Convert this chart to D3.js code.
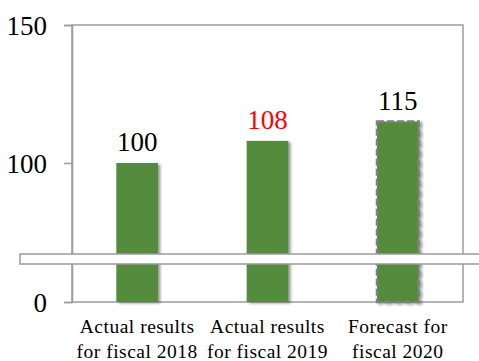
<!DOCTYPE html>
<html>
<head>
<meta charset="utf-8">
<script src="https://cdn.jsdelivr.net/npm/d3@7"></script>
<style>
  html, body { margin: 0; padding: 0; background: #fff; }
  svg { display: block; }
  svg text { font-family: "Liberation Serif", "Times New Roman", serif; }
</style>
</head>
<body>
<svg id="chart" width="479" height="361"></svg>
<script>
// Chart data
const categories = [
  ["Actual results", "for fiscal 2018"],
  ["Actual results", "for fiscal 2019"],
  ["Forecast for", "fiscal 2020"]
];
const values = [100, 108, 115];
const valueLabels = ["100", "108", "115"];
const labelColors = ["#000000", "#ff0000", "#000000"];
const forecast = [false, false, true];
const tickValues = [0, 100, 150];
const tickLabels = ["0", "100", "150"];

const serif = "'Liberation Serif', 'Times New Roman', serif";
const width = 479, height = 361;
const margin = { left: 72, right: 16, top: 25, bottom: 59 };
const plotW = width - margin.left - margin.right;
const plotH = height - margin.top - margin.bottom;

const svg = d3.select("#chart");
const g = svg.append("g").attr("transform", `translate(${margin.left},${margin.top})`);

// Soft shadow under bars
const defs = svg.append("defs");
const f = defs.append("filter").attr("id", "shadow")
  .attr("x", "-20%").attr("y", "-20%").attr("width", "160%").attr("height", "140%");
f.append("feDropShadow").attr("dx", 2.5).attr("dy", 1.5).attr("stdDeviation", 1.3)
  .attr("flood-color", "#555").attr("flood-opacity", 0.55);

// Broken value axis: the span between the break values is squeezed into the break band
const breakLow = 14, breakHigh = 67;
const y = d3.scaleLinear()
  .domain([0, breakLow, breakHigh, 150])
  .range([plotH, plotH - 38, plotH - 48, 0]);

const x = d3.scaleBand()
  .domain(d3.range(categories.length))
  .range([0, plotW])
  .paddingInner(0.68)
  .paddingOuter(0.34);

// Plot frame
g.append("rect")
  .attr("x", 0).attr("y", 0).attr("width", plotW).attr("height", plotH)
  .attr("fill", "none").attr("stroke", "#9c9c9c").attr("stroke-width", 1.5);

// Bars
g.selectAll("rect.bar").data(values).join("rect")
  .attr("class", "bar")
  .attr("x", (d, i) => x(i))
  .attr("width", x.bandwidth())
  .attr("y", d => y(d))
  .attr("height", d => y(0) - y(d))
  .attr("fill", "#548b3e")
  .attr("filter", "url(#shadow)")
  .attr("stroke", (d, i) => forecast[i] ? "#808080" : "none")
  .attr("stroke-width", 2.5)
  .attr("stroke-dasharray", (d, i) => forecast[i] ? "7,3" : null);

// Value labels
g.selectAll("text.val").data(values).join("text")
  .attr("class", "val")
  .attr("x", (d, i) => x(i) + x.bandwidth() / 2)
  .attr("y", d => y(d) - 12)
  .attr("text-anchor", "middle")
  .attr("font-family", serif)
  .attr("font-size", 27)
  .attr("fill", (d, i) => labelColors[i])
  .text((d, i) => valueLabels[i]);

// Left axis
const axis = d3.axisLeft(y)
  .tickValues(tickValues)
  .tickFormat((d, i) => tickLabels[i])
  .tickSize(8)
  .tickPadding(17);
const ax = g.append("g").call(axis);
ax.attr("font-family", serif);
ax.select(".domain").attr("stroke", "#9c9c9c").attr("stroke-width", 1.5);
ax.selectAll(".tick line").attr("stroke", "#9c9c9c").attr("stroke-width", 1.5);
ax.selectAll(".tick text")
  .attr("font-size", 27).attr("fill", "#000")
  .attr("font-family", serif)
  .attr("dy", "0.34em");

// Axis break band
g.append("rect")
  .attr("x", 20 - margin.left)
  .attr("y", y(breakHigh))
  .attr("width", width)
  .attr("height", y(breakLow) - y(breakHigh))
  .attr("fill", "#fff")
  .attr("stroke", "#9c9c9c")
  .attr("stroke-width", 1.5);

// Category labels
const cat = g.selectAll("text.cat").data(categories).join("text")
  .attr("class", "cat")
  .attr("x", (d, i) => x(i) + x.bandwidth() / 2)
  .attr("y", plotH + 31)
  .attr("text-anchor", "middle")
  .attr("font-family", serif)
  .attr("font-size", 19.5)
  .attr("letter-spacing", 0.5)
  .attr("fill", "#000");
cat.selectAll("tspan").data(d => d).join("tspan")
  .attr("x", function () { return d3.select(this.parentNode).attr("x"); })
  .attr("dy", (d, i) => i === 0 ? 0 : 25)
  .text(d => d);
</script>
</body>
</html>
